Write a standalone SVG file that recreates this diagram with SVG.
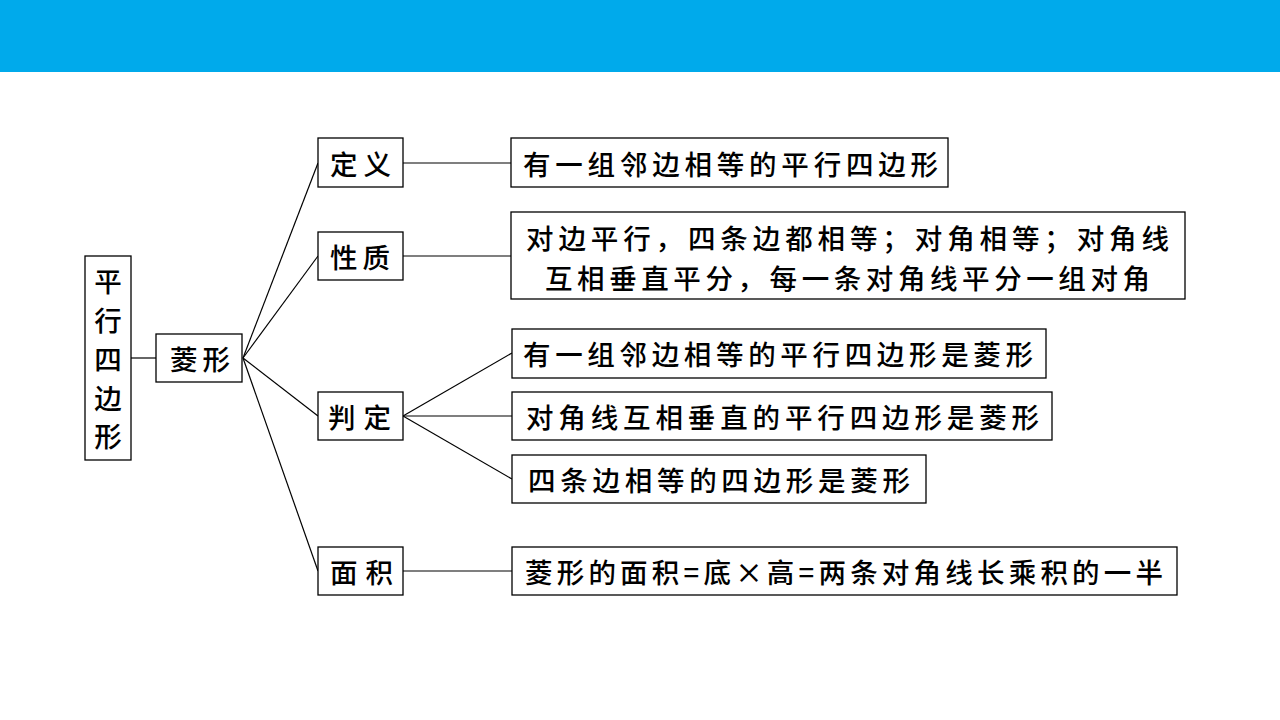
<svg xmlns="http://www.w3.org/2000/svg" width="1280" height="720" viewBox="0 0 1280 720">
<style>
.box{fill:#fff;stroke:#000;stroke-width:1.3}
.t{font-family:"Noto Sans CJK SC","Noto Sans CJK JP",sans-serif;font-size:27.5px;font-weight:500;fill:#000;dominant-baseline:central}
.c{fill:none;stroke:#000;stroke-width:1.2}
</style>
<rect x="0" y="0" width="1280" height="72" fill="#00AAEB"/>
<g id="connectors">
<line class="c" x1="131" y1="358" x2="156" y2="358"/>
<line class="c" x1="243" y1="358" x2="318" y2="163"/>
<line class="c" x1="243" y1="358" x2="318" y2="256"/>
<line class="c" x1="243" y1="358" x2="318" y2="416"/>
<line class="c" x1="243" y1="358" x2="318" y2="571"/>
<line class="c" x1="403" y1="163" x2="511" y2="163"/>
<line class="c" x1="403" y1="256" x2="511" y2="256"/>
<line class="c" x1="403" y1="416" x2="512" y2="353"/>
<line class="c" x1="403" y1="416" x2="512" y2="416"/>
<line class="c" x1="403" y1="416" x2="512" y2="479"/>
<line class="c" x1="403" y1="571" x2="512" y2="571"/>
</g>
<g id="root">
<rect class="box" x="85" y="256" width="46" height="204"/>
<text class="t" x="108" text-anchor="middle"><tspan x="108" y="280">平</tspan><tspan x="108" y="319">行</tspan><tspan x="108" y="358">四</tspan><tspan x="108" y="397">边</tspan><tspan x="108" y="435">形</tspan></text>
</g>
<g id="rhombus">
<rect class="box" x="156" y="334" width="86" height="48"/>
<text class="t" x="170" y="358" textLength="60" lengthAdjust="spacing">菱形</text>
</g>
<g id="def">
<rect class="box" x="318" y="138" width="85" height="49"/>
<text class="t" x="330" y="163" textLength="61" lengthAdjust="spacing">定义</text>
</g>
<g id="prop">
<rect class="box" x="318" y="232" width="85" height="48"/>
<text class="t" x="330" y="256" textLength="60" lengthAdjust="spacing">性质</text>
</g>
<g id="judge">
<rect class="box" x="318" y="392" width="85" height="48"/>
<text class="t" x="328" y="416" textLength="63" lengthAdjust="spacing">判定</text>
</g>
<g id="area">
<rect class="box" x="318" y="547" width="85" height="48"/>
<text class="t" x="330" y="571" textLength="63" lengthAdjust="spacing">面积</text>
</g>
<g id="def-text">
<rect class="box" x="511" y="138" width="437" height="49"/>
<text class="t" x="523" y="163" textLength="415" lengthAdjust="spacing">有一组邻边相等的平行四边形</text>
</g>
<g id="prop-text">
<rect class="box" x="511" y="212" width="674" height="87"/>
<text class="t" x="526" y="237" textLength="643" lengthAdjust="spacing">对边平行，四条边都相等；对角相等；对角线</text>
<text class="t" x="545" y="277" textLength="605" lengthAdjust="spacing">互相垂直平分，每一条对角线平分一组对角</text>
</g>
<g id="judge1">
<rect class="box" x="512" y="329" width="534" height="49"/>
<text class="t" x="523" y="353" textLength="510" lengthAdjust="spacing">有一组邻边相等的平行四边形是菱形</text>
</g>
<g id="judge2">
<rect class="box" x="512" y="392" width="540" height="48"/>
<text class="t" x="526" y="416" textLength="513" lengthAdjust="spacing">对角线互相垂直的平行四边形是菱形</text>
</g>
<g id="judge3">
<rect class="box" x="512" y="455" width="414" height="48"/>
<text class="t" x="528" y="479" textLength="382" lengthAdjust="spacing">四条边相等的四边形是菱形</text>
</g>
<g id="area-text">
<rect class="box" x="512" y="547" width="665" height="48"/>
<text class="t" x="525" y="571" textLength="638" lengthAdjust="spacing">菱形的面积=底×高=两条对角线长乘积的一半</text>
</g>
</svg>
